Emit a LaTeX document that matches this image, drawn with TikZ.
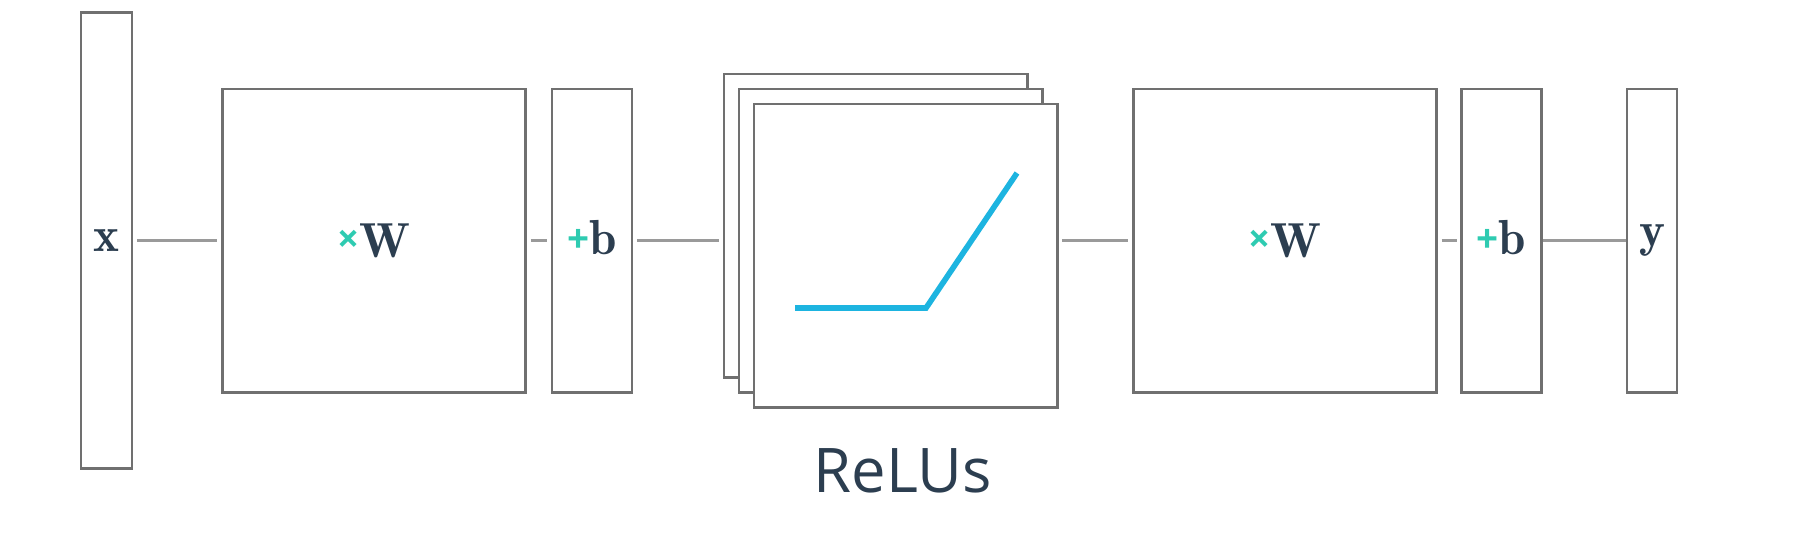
\documentclass[tikz,border=0pt]{standalone}
\usepackage{amsmath}
\usepackage{fontspec}
\usetikzlibrary{positioning}
\newfontfamily\relufont{Open Sans}

\definecolor{boxgray}{HTML}{707070}
\definecolor{linkgray}{HTML}{9A9A9A}
\definecolor{ink}{HTML}{2C3E50}
\definecolor{opteal}{HTML}{2ECBB1}
\definecolor{relublue}{HTML}{1DB4E0}

\tikzset{
  layer/.style={draw=boxgray, line width=0.8pt, fill=white, inner sep=0pt,
    text=ink, font=\fontsize{14}{16}\selectfont},
  square/.style={layer, minimum width=3.03cm, minimum height=3.03cm},
  link/.style={draw=linkgray, line width=0.8pt},
}
\newcommand{\opmul}{\raisebox{1.4pt}{\textcolor{opteal}{\relufont\bfseries\fontsize{11}{12}\selectfont ×}}}
\newcommand{\opadd}{\raisebox{0.6pt}{\textcolor{opteal}{\relufont\bfseries\fontsize{11}{12}\selectfont +}}}

\begin{document}
\begin{tikzpicture}[x=0.01cm,y=-0.01cm]
      \useasboundingbox (0,0) rectangle (1818,536);
      \node[layer, minimum width=0.51cm, minimum height=4.55cm] (x) at (106.5,240.5) {\raisebox{-0.9pt}{$\mathbf{x}$}};
      \node[square] (W1) at (374,240.5) {\raisebox{-0.9pt}{\opmul$\mathbf{W}$}};
      \node[layer, minimum width=0.80cm, minimum height=3.03cm] (b1) at (592,240.5) {\raisebox{1.7pt}{\opadd$\mathbf{b}$}};
      % stack of ReLUs, back to front
      \node[square] (relu3) at (875.5,225.5) {};
      \node[square] (relu2) at (890.5,240.5) {};
      \node[square] (relu1) at (905.5,255.5) {};
      \draw[relublue, line width=1.6pt] (795,308) -- (926,308) -- (1017,173);
      \node[text=ink, font=\relufont\fontsize{17.5}{20}\selectfont, anchor=base] (relulabel) at (902.5,492) {ReLUs};
      \node[square] (W2) at (1285,240.5) {\raisebox{-0.9pt}{\opmul$\mathbf{W}$}};
      \node[layer, minimum width=0.80cm, minimum height=3.03cm] (b2) at (1501.5,240.5) {\raisebox{1.7pt}{\opadd$\mathbf{b}$}};
      \node[layer, minimum width=0.50cm, minimum height=3.03cm] (y) at (1652,240.5) {\raisebox{-0.9pt}{$\mathbf{y}$}};
      % connectors
      \draw[link, shorten <=1.1pt, shorten >=1.1pt] (x.east |- W1.west) -- (W1.west);
      \draw[link, shorten <=1.1pt, shorten >=1.1pt] (W1.east) -- (b1.west);
      \draw[link, shorten <=1.1pt, shorten >=1.1pt] (b1.east) -- (b1.east -| relu3.west);
      \draw[link, shorten <=1.1pt, shorten >=1.1pt] (relu1.east |- W2.west) -- (W2.west);
      \draw[link, shorten <=1pt, shorten >=1pt] (W2.east) -- (b2.west);
      \draw[link] (b2.east) -- (y.west);
\end{tikzpicture}
\end{document}
